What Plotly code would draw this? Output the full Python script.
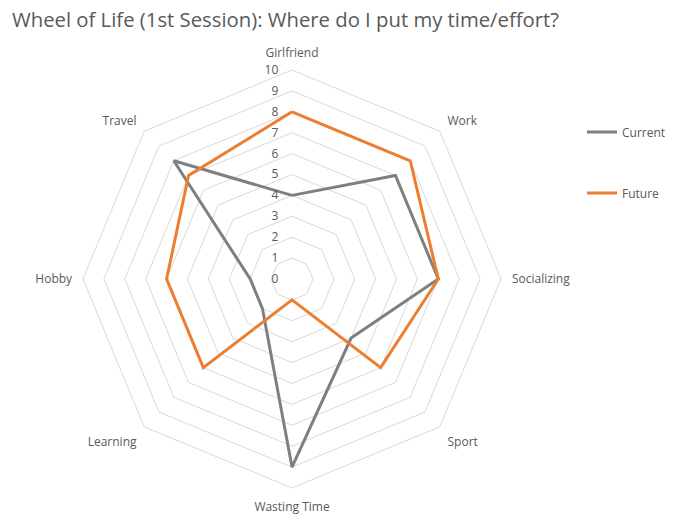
import plotly.graph_objects as go

categories = ["Girlfriend", "Work", "Socializing", "Sport", "Wasting Time", "Learning", "Hobby", "Travel"]
current = [4, 7, 7, 4, 9, 2, 2, 8]
future = [8, 8, 7, 6, 1, 6, 6, 7]
radial_ticks = list(range(0, 11))

FONT = "Open Sans"
TXT = "#595959"

fig = go.Figure()
fig.add_trace(go.Scatterpolar(
    r=current + current[:1], theta=categories + categories[:1], mode="lines",
    name="Current", line=dict(color="#7f7f7f", width=3), legend="legend",
    showlegend=True))
fig.add_trace(go.Scatterpolar(
    r=future + future[:1], theta=categories + categories[:1], mode="lines",
    name="Future", line=dict(color="#ed7d31", width=3), legend="legend2",
    showlegend=True))

fig.update_layout(
    width=678, height=517,
    showlegend=True,
    paper_bgcolor="white", plot_bgcolor="white",
    margin=dict(l=0, r=0, t=0, b=0),
    font=dict(family=FONT, color=TXT, size=12),
    title=dict(text="Wheel of Life (1st Session): Where do I put my time/effort?",
               x=12/678, xanchor="left", y=1-20/517, yanchor="middle",
               font=dict(family=FONT, size=20.3, color=TXT)),
    polar=dict(
        domain=dict(x=[83/678, 501/678], y=[1-488/517, 1-70/517]),
        gridshape="linear",
        bgcolor="white",
        angularaxis=dict(direction="clockwise", rotation=90, showgrid=False,
                         showline=True, linecolor="#d9d9d9", linewidth=1,
                         ticks="outside", ticklen=8, tickcolor="rgba(0,0,0,0)",
                         tickfont=dict(size=12, color=TXT)),
        radialaxis=dict(range=[0, 10], tickvals=radial_ticks, angle=90,
                        tickangle=90,
                        side="counterclockwise", showline=False,
                        ticks="outside", ticklen=9, tickcolor="rgba(0,0,0,0)",
                        gridcolor="#d9d9d9", gridwidth=1,
                        tickfont=dict(size=12, color=TXT)),
    ),
    legend=dict(x=582/678, y=1-132/517, xanchor="left", yanchor="middle",
                font=dict(size=12, color=TXT), bgcolor="rgba(0,0,0,0)"),
    legend2=dict(x=582/678, y=1-193/517, xanchor="left", yanchor="middle",
                 font=dict(size=12, color=TXT), bgcolor="rgba(0,0,0,0)"),
)

fig.write_html("out.html")
